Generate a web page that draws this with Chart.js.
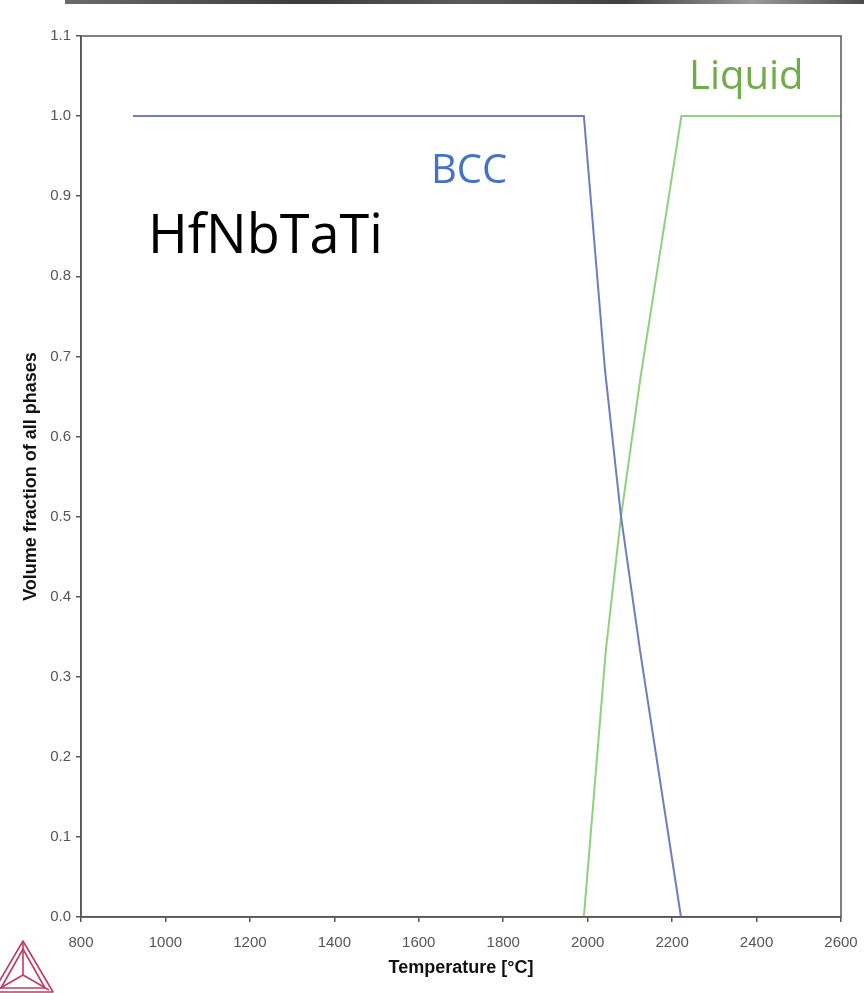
<!DOCTYPE html>
<html>
<head>
<meta charset="utf-8">
<script src="https://cdn.jsdelivr.net/npm/chart.js@4.4.1/dist/chart.umd.min.js"></script>
<style>
  html, body { margin: 0; padding: 0; background: #fff; }
  #wrap { position: relative; width: 864px; height: 993px; overflow: hidden; }
  #topbar { position: absolute; left: 65px; top: 0; width: 799px; height: 4px;
    background: linear-gradient(90deg, #6a6a6a, #3c3c3c 30%, #5a5a5a 50%, #404040 70%, #9a9a9a 86%, #4a4a4a); }
  .lbl { position: absolute; font-family: "Open Sans", sans-serif; white-space: nowrap; line-height: 1; }
  #alloy { left: 148px; top: 205px; font-size: 54px; color: #000; }
  #bcc { left: 431px; top: 148px; font-size: 40px; color: #4472c4; }
  #liq { left: 689px; top: 54px; font-size: 40px; color: #70ad47; }
  #logo { position: absolute; left: 0; top: 938px; }
</style>
</head>
<body>
<div id="wrap">
  <canvas id="phaseChart" width="864" height="993"></canvas>
  <div id="topbar"></div>
  <div class="lbl" id="alloy">HfNbTaTi</div>
  <div class="lbl" id="bcc">BCC</div>
  <div class="lbl" id="liq">Liquid</div>
  <svg id="logo" width="60" height="55" viewBox="0 0 60 55">
    <g fill="none" stroke="#c23a5f" stroke-width="1.6" stroke-linejoin="round">
      <polygon points="23,3 -7,54 53,54"/>
      <polygon points="23,11 1,50 45,50"/>
      <line x1="23" y1="3" x2="23" y2="37"/>
      <line x1="23" y1="37" x2="-3" y2="52"/>
      <line x1="23" y1="37" x2="49" y2="52"/>
    </g>
  </svg>
</div>
<script>
// temperatures in °C, volume fractions 0..1
const bccTemp = [923, 1991, 2041, 2079, 2124, 2221];
const bccFrac = [1.0, 1.0, 0.683, 0.5, 0.333, 0.0];
const liqTemp = [1991, 2043, 2079, 2126, 2222, 2600];
const liqFrac = [0.0, 0.333, 0.5, 0.677, 1.0, 1.0];
const xTicks = [800, 1000, 1200, 1400, 1600, 1800, 2000, 2200, 2400, 2600];
const yTicks = [0, 0.1, 0.2, 0.3, 0.4, 0.5, 0.6, 0.7, 0.8, 0.9, 1.0, 1.1];

const toPoints = (xs, ys) => xs.map((x, i) => ({ x: x, y: ys[i] }));

// box around the plot area (top and right edges too)
const frame = {
    id: 'frame',
    afterDraw(chart) {
        const a = chart.chartArea, c = chart.ctx;
        c.save();
        c.strokeStyle = '#555';
        c.lineWidth = 1.5;
        c.strokeRect(a.left, a.top, a.right - a.left, a.bottom - a.top);
        c.restore();
    }
};

const tickFont = { family: 'Liberation Sans, Arial, sans-serif', size: 15 };
const titleFont = { family: 'Liberation Sans, Arial, sans-serif', size: 18, weight: 'bold' };

new Chart(document.getElementById('phaseChart'), {
    type: 'line',
    data: {
        datasets: [
            {
                label: 'BCC',
                data: toPoints(bccTemp, bccFrac),
                borderColor: '#6f7cc2',
                borderWidth: 2,
                pointRadius: 0,
                tension: 0
            },
            {
                label: 'Liquid',
                data: toPoints(liqTemp, liqFrac),
                borderColor: '#8fd27c',
                borderWidth: 2,
                pointRadius: 0,
                tension: 0
            }
        ]
    },
    options: {
        responsive: false,
        animation: false,
        clip: false,
        layout: { padding: { top: 36, right: 23, left: 0, bottom: 0 } },
        plugins: { legend: { display: false }, tooltip: { enabled: false } },
        scales: {
            x: {
                type: 'linear',
                min: 800, max: 2600,
                afterBuildTicks: s => { s.ticks = xTicks.map(v => ({ value: v })); },
                afterFit: s => { s.height = 76; s.paddingRight = 0; s.paddingLeft = 0; },
                ticks: { color: '#555', font: tickFont, padding: 12, maxRotation: 0, callback: v => String(v) },
                grid: { drawOnChartArea: false, tickLength: 5, color: '#555', lineWidth: 1.5 },
                border: { color: '#555', width: 1.5 },
                title: { display: true, text: 'Temperature [°C]', color: '#111', font: titleFont, padding: { top: 2, bottom: 14 } }
            },
            y: {
                min: 0, max: 1.1,
                afterBuildTicks: s => { s.ticks = yTicks.map(v => ({ value: v })); },
                afterFit: s => { s.width = 81; s.paddingTop = 0; s.paddingBottom = 0; },
                ticks: { color: '#555', font: tickFont, padding: 5, callback: v => v.toFixed(1) },
                grid: { drawOnChartArea: false, tickLength: 5, color: '#555', lineWidth: 1.5 },
                border: { color: '#555', width: 1.5 },
                title: { display: true, text: 'Volume fraction of all phases', color: '#111', font: titleFont, padding: { top: 20, bottom: 0 } }
            }
        }
    },
    plugins: [frame]
});
</script>
</body>
</html>
